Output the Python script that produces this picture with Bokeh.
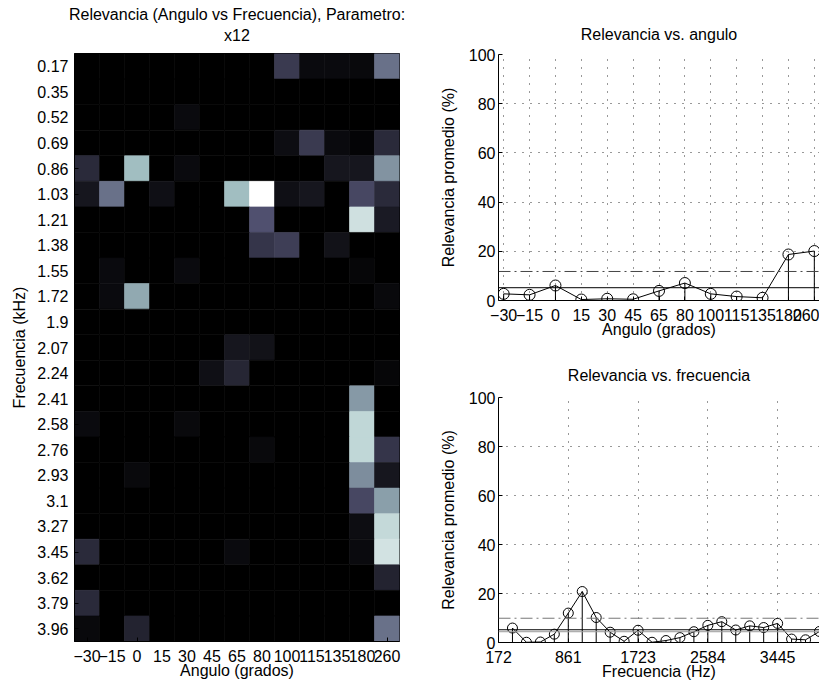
import numpy as np
from bokeh.plotting import figure
from bokeh.models import Range1d, FixedTicker, LinearColorMapper, Span, Title, ColumnDataSource
from bokeh.layouts import row, column
from bokeh.embed import file_html
from bokeh.resources import INLINE

# ---------------- data ----------------
angles = ["\u221230", "\u221215", "0", "15", "30", "45", "65", "80", "100", "115", "135", "180", "260"]
freq_khz = ["0.17", "0.35", "0.52", "0.69", "0.86", "1.03", "1.21", "1.38", "1.55", "1.72", "1.9", "2.07",
            "2.24", "2.41", "2.58", "2.76", "2.93", "3.1", "3.27", "3.45", "3.62", "3.79", "3.96"]
# relevance (%) per frequency row (top to bottom) and angle column
relevance = [
    [0, 0, 0, 0, 0, 0, 0, 0, 26, 5, 5, 4, 47],
    [0, 0, 0, 0, 0, 0, 0, 0, 0, 0, 0, 0, 0],
    [0, 0, 0, 0, 5, 0, 0, 0, 0, 0, 0, 0, 0],
    [0, 0, 0, 0, 0, 0, 0, 0, 6, 26, 5, 2, 19],
    [19, 0, 72, 0, 5, 0, 0, 0, 0, 0, 10, 10, 58],
    [10, 47, 0, 7, 0, 0, 72, 100, 7, 10, 0, 32, 19],
    [0, 0, 0, 0, 0, 0, 0, 36, 0, 0, 0, 86, 12],
    [0, 0, 0, 0, 0, 0, 0, 24, 28, 0, 8, 0, 0],
    [0, 5, 0, 0, 5, 0, 0, 0, 0, 0, 0, 3, 0],
    [0, 5, 65, 0, 0, 0, 0, 0, 0, 0, 0, 0, 4],
    [0, 0, 0, 0, 0, 0, 0, 0, 0, 0, 0, 0, 0],
    [0, 0, 0, 0, 0, 0, 10, 8, 0, 0, 0, 0, 0],
    [0, 0, 0, 0, 0, 7, 17, 0, 0, 0, 0, 0, 3],
    [0, 0, 0, 0, 0, 0, 0, 0, 0, 0, 0, 60, 0],
    [5, 0, 0, 0, 4, 0, 0, 0, 0, 0, 0, 82, 0],
    [0, 0, 0, 0, 0, 0, 0, 4, 0, 0, 0, 82, 24],
    [0, 0, 4, 0, 0, 0, 0, 0, 0, 0, 0, 56, 10],
    [0, 0, 0, 0, 0, 0, 0, 0, 0, 0, 0, 32, 62],
    [0, 0, 0, 0, 0, 0, 0, 0, 0, 0, 0, 6, 83],
    [19, 0, 0, 0, 0, 0, 5, 0, 0, 0, 0, 5, 87],
    [0, 0, 0, 0, 0, 0, 0, 0, 0, 0, 0, 0, 16],
    [19, 0, 0, 0, 0, 0, 0, 0, 0, 0, 0, 0, 0],
    [4, 0, 16, 0, 0, 0, 0, 0, 0, 0, 0, 0, 47],
]

angle_rel = [2.7, 2.3, 6.1, 0.4, 0.7, 0.5, 3.9, 7.1, 2.7, 1.6, 1.1, 18.7, 20.1]
angle_mean = 5.2
angle_upper = 11.8

freq_rel = [5.9, 0.1, 0.2, 3.4, 12.0, 20.8, 10.2, 4.2, 0.5, 5.0, 0.1, 0.8, 2.0, 4.4,
            7.0, 8.5, 5.1, 6.8, 6.1, 7.8, 1.4, 1.1, 4.5]
freq_mean = 5.2
freq_ref = 4.4
freq_upper = 9.9
freq_tick_pos = [0, 5, 10, 15, 20]
freq_tick_labels = ["172", "861", "1723", "2584", "3445"]

# ---------------- style ----------------
FONT = "Liberation Sans"
FS = "16px"


def bone_palette(n=256):
    t = np.linspace(0, 1, n)
    r_hot = np.clip(t / (3 / 8), 0, 1)
    g_hot = np.clip((t - 3 / 8) / (3 / 8), 0, 1)
    b_hot = np.clip((t - 6 / 8) / (2 / 8), 0, 1)
    R = (7 * t + b_hot) / 8
    G = (7 * t + g_hot) / 8
    B = (7 * t + r_hot) / 8
    return ["#%02x%02x%02x" % (int(round(r * 255)), int(round(g * 255)), int(round(b * 255)))
            for r, g, b in zip(R, G, B)]


def style_axes(p, ylab_standoff=6, ylabel_standoff=6):
    for ax in p.axis:
        ax.major_label_text_font = FONT
        ax.major_label_text_font_size = FS
        ax.major_label_text_color = "black"
        ax.axis_label_text_font = FONT
        ax.axis_label_text_font_size = FS
        ax.axis_label_text_font_style = "normal"
        ax.axis_label_text_color = "black"
        ax.axis_line_color = "black"
        ax.major_tick_line_color = "black"
        ax.major_tick_in = 4
        ax.major_tick_out = 0
        ax.minor_tick_line_color = None
    for ax in p.xaxis:
        ax.major_label_standoff = 8
        ax.axis_label_standoff = -3
    for ax in p.yaxis:
        ax.major_label_standoff = ylab_standoff
        ax.axis_label_standoff = ylabel_standoff


def style_title(t, standoff):
    t.text_font = FONT
    t.text_font_size = FS
    t.text_font_style = "normal"
    t.text_color = "black"
    t.align = "center"
    t.standoff = standoff


# ---------------- heatmap ----------------
xs, ys, vs = [], [], []
for i, r in enumerate(relevance):
    for j, v in enumerate(r):
        xs.append(j + 1)
        ys.append(i + 1)
        vs.append(v)
src = ColumnDataSource(dict(x=xs, y=ys, v=vs))
mapper = LinearColorMapper(palette=bone_palette(), low=0, high=100)

p1 = figure(frame_width=325, frame_height=588, output_backend="svg", toolbar_location=None,
            x_range=Range1d(0.5, 13.5), y_range=Range1d(23.5, 0.5),
            min_border_left=74, min_border_right=10, min_border_top=53, min_border_bottom=35,
            background_fill_color="white", border_fill_color="white")
p1.rect(x="x", y="y", width=1, height=1, source=src,
        fill_color={"field": "v", "transform": mapper},
        line_color={"field": "v", "transform": mapper}, line_width=0.6)
p1.xgrid.visible = False
p1.ygrid.visible = False
p1.xaxis.ticker = FixedTicker(ticks=list(range(1, 14)))
p1.xaxis.major_label_overrides = {i + 1: a for i, a in enumerate(angles)}
p1.yaxis.ticker = FixedTicker(ticks=list(range(1, 24)))
p1.yaxis.major_label_overrides = {i + 1: f for i, f in enumerate(freq_khz)}
p1.xaxis.axis_label = "Angulo (grados)"
p1.yaxis.axis_label = "Frecuencia (kHz)"
p1.outline_line_color = "black"
style_axes(p1, 6, 6)
p1.title.text = "Relevancia (Angulo vs Frecuencia), Parametro:"
style_title(p1.title, -16)
t1b = Title(text="x12")
style_title(t1b, 20)
p1.add_layout(t1b, "above")

# ---------------- relevance vs angle ----------------
xa = list(range(1, 14))
p2 = figure(frame_width=321, frame_height=246, output_backend="svg", toolbar_location=None,
            x_range=Range1d(0.8, 13.2), y_range=Range1d(0, 100),
            min_border_left=89, min_border_right=0, min_border_top=54, min_border_bottom=50,
            background_fill_color="white", border_fill_color="white")
for g in (p2.xgrid, p2.ygrid):
    g.grid_line_color = "#333333"
    g.grid_line_dash = "1 7"
    g.grid_line_width = 1
p2.xaxis.ticker = FixedTicker(ticks=xa)
p2.xaxis.major_label_overrides = {i + 1: a for i, a in enumerate(angles)}
p2.yaxis.ticker = FixedTicker(ticks=[0, 20, 40, 60, 80, 100])
p2.outline_line_color = None
p2.add_layout(Span(location=angle_mean, dimension="width", line_color="black", line_width=1))
p2.add_layout(Span(location=angle_upper, dimension="width", line_color="#444444", line_width=1,
                   line_dash="12 4 2 4"))
p2.segment(x0=xa, y0=[0] * len(xa), x1=xa, y1=angle_rel, line_color="black", line_width=1)
p2.line(xa, angle_rel, line_color="black", line_width=1)
p2.scatter(xa, angle_rel, marker="circle", size=11, fill_color=None, line_color="black", line_width=1)
p2.xaxis.axis_label = "Angulo (grados)"
p2.yaxis.axis_label = "Relevancia promedio (%)"
style_axes(p2, 3, 9)
p2.title.text = "Relevancia vs. angulo"
style_title(p2.title, 24)

# ---------------- relevance vs frequency ----------------
xf = list(range(1, 24))
p3 = figure(frame_width=321, frame_height=245, output_backend="svg", toolbar_location=None,
            x_range=Range1d(0, 23), y_range=Range1d(0, 100),
            min_border_left=89, min_border_right=0, min_border_top=46, min_border_bottom=35,
            background_fill_color="white", border_fill_color="white")
for g in (p3.xgrid, p3.ygrid):
    g.grid_line_color = "#333333"
    g.grid_line_dash = "1 7"
    g.grid_line_width = 1
p3.xaxis.ticker = FixedTicker(ticks=freq_tick_pos)
p3.xaxis.major_label_overrides = {pos: lab for pos, lab in zip(freq_tick_pos, freq_tick_labels)}
p3.yaxis.ticker = FixedTicker(ticks=[0, 20, 40, 60, 80, 100])
p3.outline_line_color = None
p3.add_layout(Span(location=freq_ref, dimension="width", line_color="#999999", line_width=1))
p3.add_layout(Span(location=freq_mean, dimension="width", line_color="black", line_width=1))
p3.add_layout(Span(location=freq_upper, dimension="width", line_color="#777777", line_width=1,
                   line_dash="12 4 2 4"))
p3.segment(x0=xf, y0=[0] * len(xf), x1=xf, y1=freq_rel, line_color="black", line_width=1)
p3.line(xf, freq_rel, line_color="black", line_width=1)
p3.scatter(xf, freq_rel, marker="circle", size=10, fill_color=None, line_color="black", line_width=1)
p3.xaxis.axis_label = "Frecuencia (Hz)"
p3.yaxis.axis_label = "Relevancia promedio (%)"
style_axes(p3, 3, 9)
p3.title.text = "Relevancia vs. frecuencia"
style_title(p3.title, 28)

layout = row(p1, column(p2, p3))
open("out.html", "w").write(file_html(layout, INLINE))
